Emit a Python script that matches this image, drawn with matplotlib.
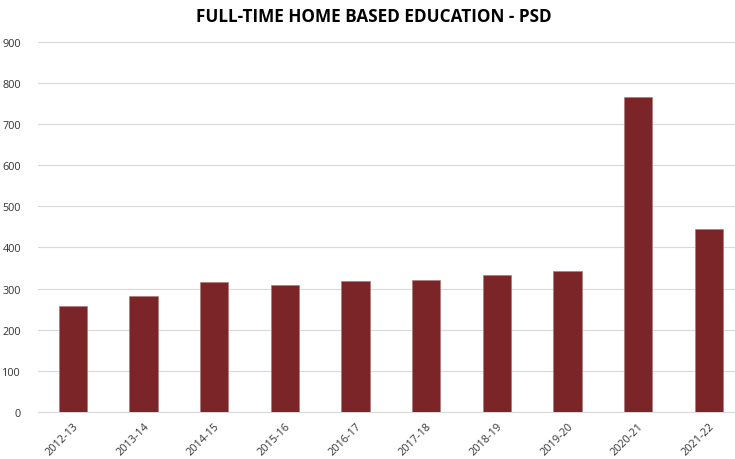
import matplotlib
matplotlib.use("Agg")
import matplotlib.pyplot as plt

categories = ["2012-13", "2013-14", "2014-15", "2015-16", "2016-17",
              "2017-18", "2018-19", "2019-20", "2020-21", "2021-22"]
values = [257, 281, 315, 309, 318, 320, 333, 343, 766, 445]
yticks = [0, 100, 200, 300, 400, 500, 600, 700, 800, 900]

plt.rcParams['font.family'] = ['Open Sans', 'DejaVu Sans']

fig = plt.figure(figsize=(7.35, 4.6), dpi=100)
ax = fig.add_axes([0.0512, 0.1022, 0.961, 0.805])

x = list(range(len(categories)))
ax.bar(x, values, width=0.4, color="#7B2528", edgecolor="#b07a7c", linewidth=0.5, zorder=3)

ax.set_xlim(-0.5, len(categories) - 0.5)
ax.set_ylim(0, 900)
ax.set_yticks(yticks)
ax.set_yticklabels([str(t) for t in yticks], fontsize=7.8, color="#333333")
ax.set_xticks(x)
ax.set_xticklabels(categories, fontsize=7.8, color="#333333", rotation=45,
                   ha="right", va="top", rotation_mode="anchor")
ax.tick_params(axis="both", length=0)
ax.tick_params(axis="y", pad=12)
ax.tick_params(axis="x", pad=6)

ax.grid(axis="y", color="#d9d9d9", linewidth=0.8, zorder=0)
for s in ["top", "right", "left"]:
    ax.spines[s].set_visible(False)
ax.spines["bottom"].set_color("#d9d9d9")
ax.spines["bottom"].set_linewidth(0.8)

fig.text(0.508, 0.962, "FULL-TIME HOME BASED EDUCATION - PSD", ha="center", va="center",
         fontsize=12.3, fontweight="bold", color="#000000")

fig.savefig("out.png", dpi=100)
